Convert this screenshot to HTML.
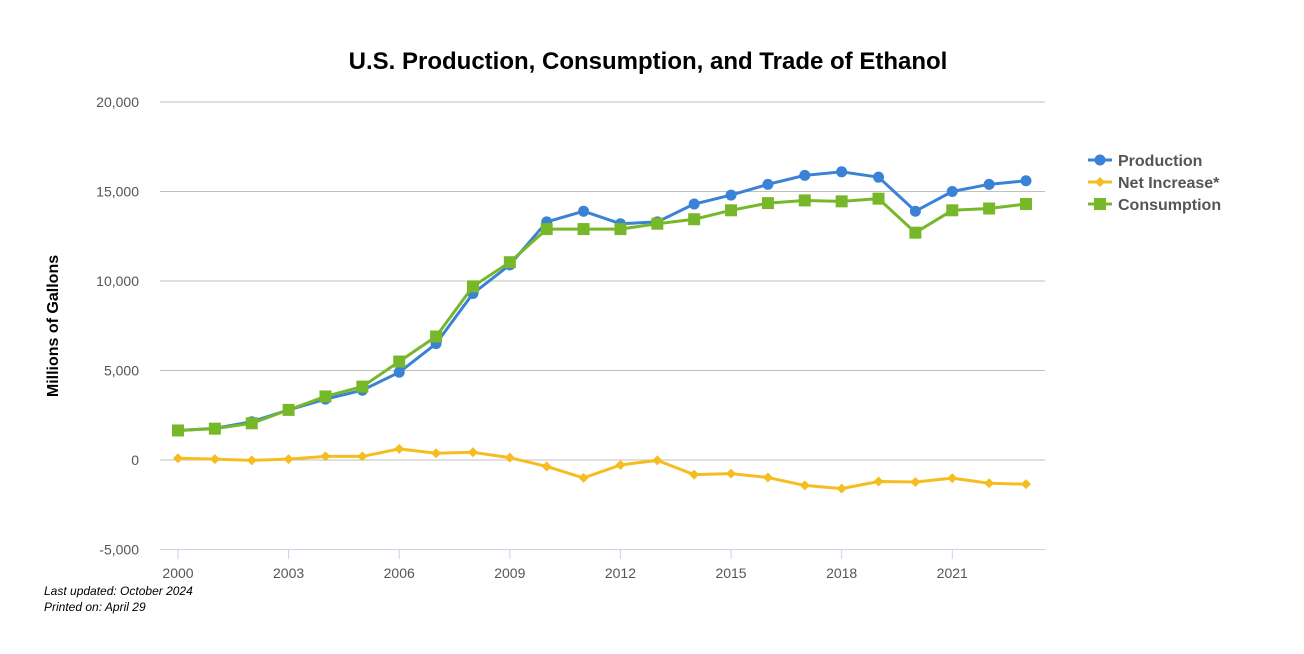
<!DOCTYPE html>
<html><head><meta charset="utf-8"><style>
body{margin:0;background:#fff;font-family:"Liberation Sans",sans-serif;}
svg{display:block}
</style></head><body>
<svg id="chart" width="1304" height="654">
<text x="648" y="69" text-anchor="middle" font-size="24" font-weight="bold" fill="#000">U.S. Production, Consumption, and Trade of Ethanol</text>
<text transform="translate(58,326) rotate(-90)" text-anchor="middle" font-size="16" font-weight="bold" fill="#000">Millions of Gallons</text>
<text x="44" y="595" font-size="12" font-style="italic" fill="#000">Last updated: October 2024</text>
<text x="44" y="611" font-size="12" font-style="italic" fill="#000">Printed on: April 29</text>
<g id="grid"></g><g id="xaxis"></g><g id="series"></g>
<g>
<g><line x1="1088" y1="160" x2="1112" y2="160" stroke="#3a82d6" stroke-width="3"/><circle cx="1100" cy="160" r="5.5" fill="#3a82d6"/><text x="1118" y="166" font-size="16" font-weight="bold" fill="#555">Production</text></g>
<g><line x1="1088" y1="182" x2="1112" y2="182" stroke="#f5bd1f" stroke-width="3"/><path d="M1100 177 L1105 182 L1100 187 L1095 182Z" fill="#f5bd1f"/><text x="1118" y="188" font-size="16" font-weight="bold" fill="#555">Net Increase*</text></g>
<g><line x1="1088" y1="204" x2="1112" y2="204" stroke="#76b82a" stroke-width="3"/><rect x="1094" y="198" width="12" height="12" fill="#76b82a"/><text x="1118" y="210" font-size="16" font-weight="bold" fill="#555">Consumption</text></g>
</g>
</svg>
<script>
const years=[2000,2001,2002,2003,2004,2005,2006,2007,2008,2009,2010,2011,2012,2013,2014,2015,2016,2017,2018,2019,2020,2021,2022,2023];
const production=[1650,1770,2140,2800,3400,3900,4900,6500,9300,10900,13300,13900,13200,13300,14300,14800,15400,15900,16100,15800,13900,15000,15400,15600];
const netIncrease=[100,50,-20,50,200,200,620,380,430,130,-360,-1000,-280,-20,-820,-760,-980,-1420,-1600,-1200,-1230,-1010,-1300,-1350];
const consumption=[1650,1750,2050,2800,3550,4100,5500,6900,9700,11050,12900,12900,12900,13200,13450,13950,14350,14500,14450,14600,12700,13950,14050,14300];
const yTicks=[-5000,0,5000,10000,15000,20000];
const yTickLabels=["-5,000","0","5,000","10,000","15,000","20,000"];
const xTicks=[2000,2003,2006,2009,2012,2015,2018,2021];
const NS="http://www.w3.org/2000/svg";
const X=v=>178+(v-2000)*(1026-178)/23;
const Y=v=>460-v*(460-102)/20000;
function mk(t,a,p){const e=document.createElementNS(NS,t);for(const k in a)e.setAttribute(k,a[k]);p.appendChild(e);return e;}
const grid=document.getElementById('grid');
yTicks.forEach((t,i)=>{
 const l=mk('line',{x1:160,x2:1045,y1:Y(t),y2:Y(t),stroke:t===-5000?'#c8d4e6':'#c0c0c0','stroke-width':1},grid);
 
 
 const tx=mk('text',{x:139,y:Y(t)+5,'text-anchor':'end','font-size':14,fill:'#555'},grid);
 tx.textContent=yTickLabels[i];
 
 
});
const xa=document.getElementById('xaxis');
xTicks.forEach(t=>{
 const l=mk('line',{x1:X(t),x2:X(t),y1:549,y2:559,stroke:'#c8d4e6'},xa);
 
 
 const tx=mk('text',{x:X(t),y:578,'text-anchor':'middle','font-size':14,fill:'#555'},xa);
 tx.textContent=t;
 
 
});
const sg=document.getElementById('series');
function series(vals,color,shape,name){
 const g=mk('g',{},sg);
 
 
 const pts=vals.map((v,i)=>X(years[i])+','+Y(v)).join(' ');
 mk('polyline',{points:pts,fill:'none',stroke:color,'stroke-width':3,'stroke-linejoin':'round'},g);
 vals.forEach((v,i)=>{
  const x=X(years[i]),y=Y(v);let m;
  if(shape==='circle')m=mk('circle',{cx:x,cy:y,r:5.5,fill:color},g);
  else if(shape==='square')m=mk('rect',{x:x-6,y:y-6,width:12,height:12,fill:color},g);
  else m=mk('path',{d:`M${x} ${y-5}L${x+5} ${y}L${x} ${y+5}L${x-5} ${y}Z`,fill:color},g);
  
  
 });
}
series(netIncrease,'#f5bd1f','diamond','net-increase');
series(production,'#3a82d6','circle','production');
series(consumption,'#76b82a','square','consumption');
</script>
</body></html>
